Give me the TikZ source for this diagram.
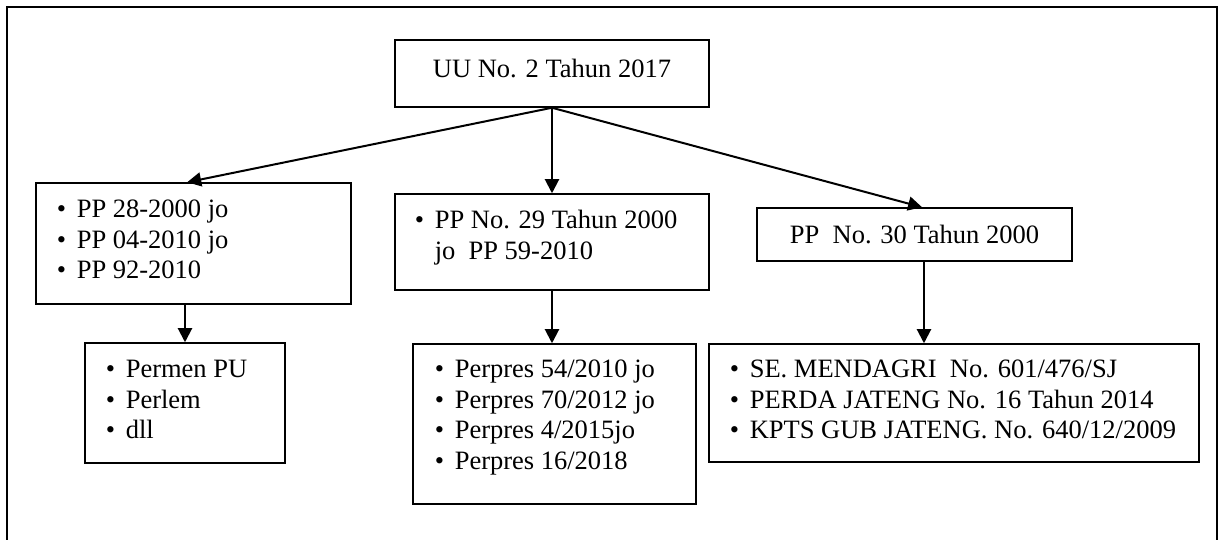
\documentclass[tikz,border=0pt]{standalone}
\usepackage{fontspec}
\setmainfont{Liberation Serif}
\usetikzlibrary{arrows.meta, calc}
\newcommand{\docfont}{\fontsize{13.25}{15.25}\selectfont}
\newcommand{\itm}{\makebox[10pt][l]{\textbullet}}

\begin{document}
\begin{tikzpicture}[
        x=0.5pt, y=-0.5pt,
        box/.style={rectangle, draw, line width=0.75pt, inner sep=0pt},
        lst/.style={anchor=base west, inner sep=0pt, font=\docfont},
        txt/.style={anchor=base, inner sep=0pt, font=\docfont},
        arrow/.style={-{Triangle[length=7pt, width=7pt]}, line width=1pt}
    ]
        \useasboundingbox (0,0) rectangle (1223,540);
        % outer frame (open at the bottom)
        \draw[line width=1pt] (7,545) |- (1217,7) -- (1217,545);

        % UU
        \node[box, minimum width=157pt, minimum height=33.5pt] (uu) at (552,73.5) {};
        \node[txt] (uutxt) at (552,78) {UU No. 2 Tahun 2017};

        % second row
        \node[box, minimum width=157.5pt, minimum height=60.5pt] (pp28) at (193.5,243.5) {};
        \node[lst] (pp28txt) at (56.4,218) {\begin{tabular}[t]{@{}l@{}}\itm PP 28-2000 jo\\ \itm PP 04-2010 jo\\ \itm PP 92-2010\end{tabular}};

        \node[box, minimum width=157pt, minimum height=48pt] (pp29) at (552,242) {};
        \node[lst] (pp29txt) at (414.4,229) {\begin{tabular}[t]{@{}l@{}}\itm PP No. 29 Tahun 2000\\ \hspace*{10pt}jo\ \ PP 59-2010\end{tabular}};

        \node[box, minimum width=157.5pt, minimum height=26.5pt] (pp30) at (914.5,234.5) {};
        \node[txt] (pp30txt) at (914.5,243) {PP\ \ No. 30 Tahun 2000};

        % third row
        \node[box, minimum width=100pt, minimum height=60pt] (permen) at (185,403) {};
        \node[lst] (permentxt) at (105.4,378) {\begin{tabular}[t]{@{}l@{}}\itm Permen PU\\ \itm Perlem\\ \itm dll\end{tabular}};

        \node[box, minimum width=141.5pt, minimum height=80pt] (perpres) at (554.5,424) {};
        \node[lst] (perprestxt) at (434.4,378) {\begin{tabular}[t]{@{}l@{}}\itm Perpres 54/2010 jo\\ \itm Perpres 70/2012 jo\\ \itm Perpres 4/2015jo\\ \itm Perpres 16/2018\end{tabular}};

        \node[box, minimum width=245pt, minimum height=59pt] (perda) at (954,403) {};
        \node[lst] (perdatxt) at (729.4,378) {\begin{tabular}[t]{@{}l@{}}\itm SE. MENDAGRI\ \ No. 601/476/SJ\\ \itm PERDA JATENG No. 16 Tahun 2014\\ \itm KPTS GUB JATENG. No. 640/12/2009\end{tabular}};

        % arrows
        \coordinate (pp30out) at ($(pp30.south west)!0.53!(pp30.south east)$);
        \draw[arrow] (uu.south) -- ($(pp28.north west)!0.48!(pp28.north east)$);
        \draw[arrow] (uu.south) -- (uu.south |- pp29.north);
        \draw[arrow] (uu.south) -- ($(pp30.north west)!0.524!(pp30.north east)$);
        \draw[arrow] (pp28.south -| permen.north) -- (permen.north);
        \draw[arrow] (pp29.south) -- (pp29.south |- perpres.north);
        \draw[arrow] (pp30out) -- (pp30out |- perda.north);
\end{tikzpicture}
\end{document}
